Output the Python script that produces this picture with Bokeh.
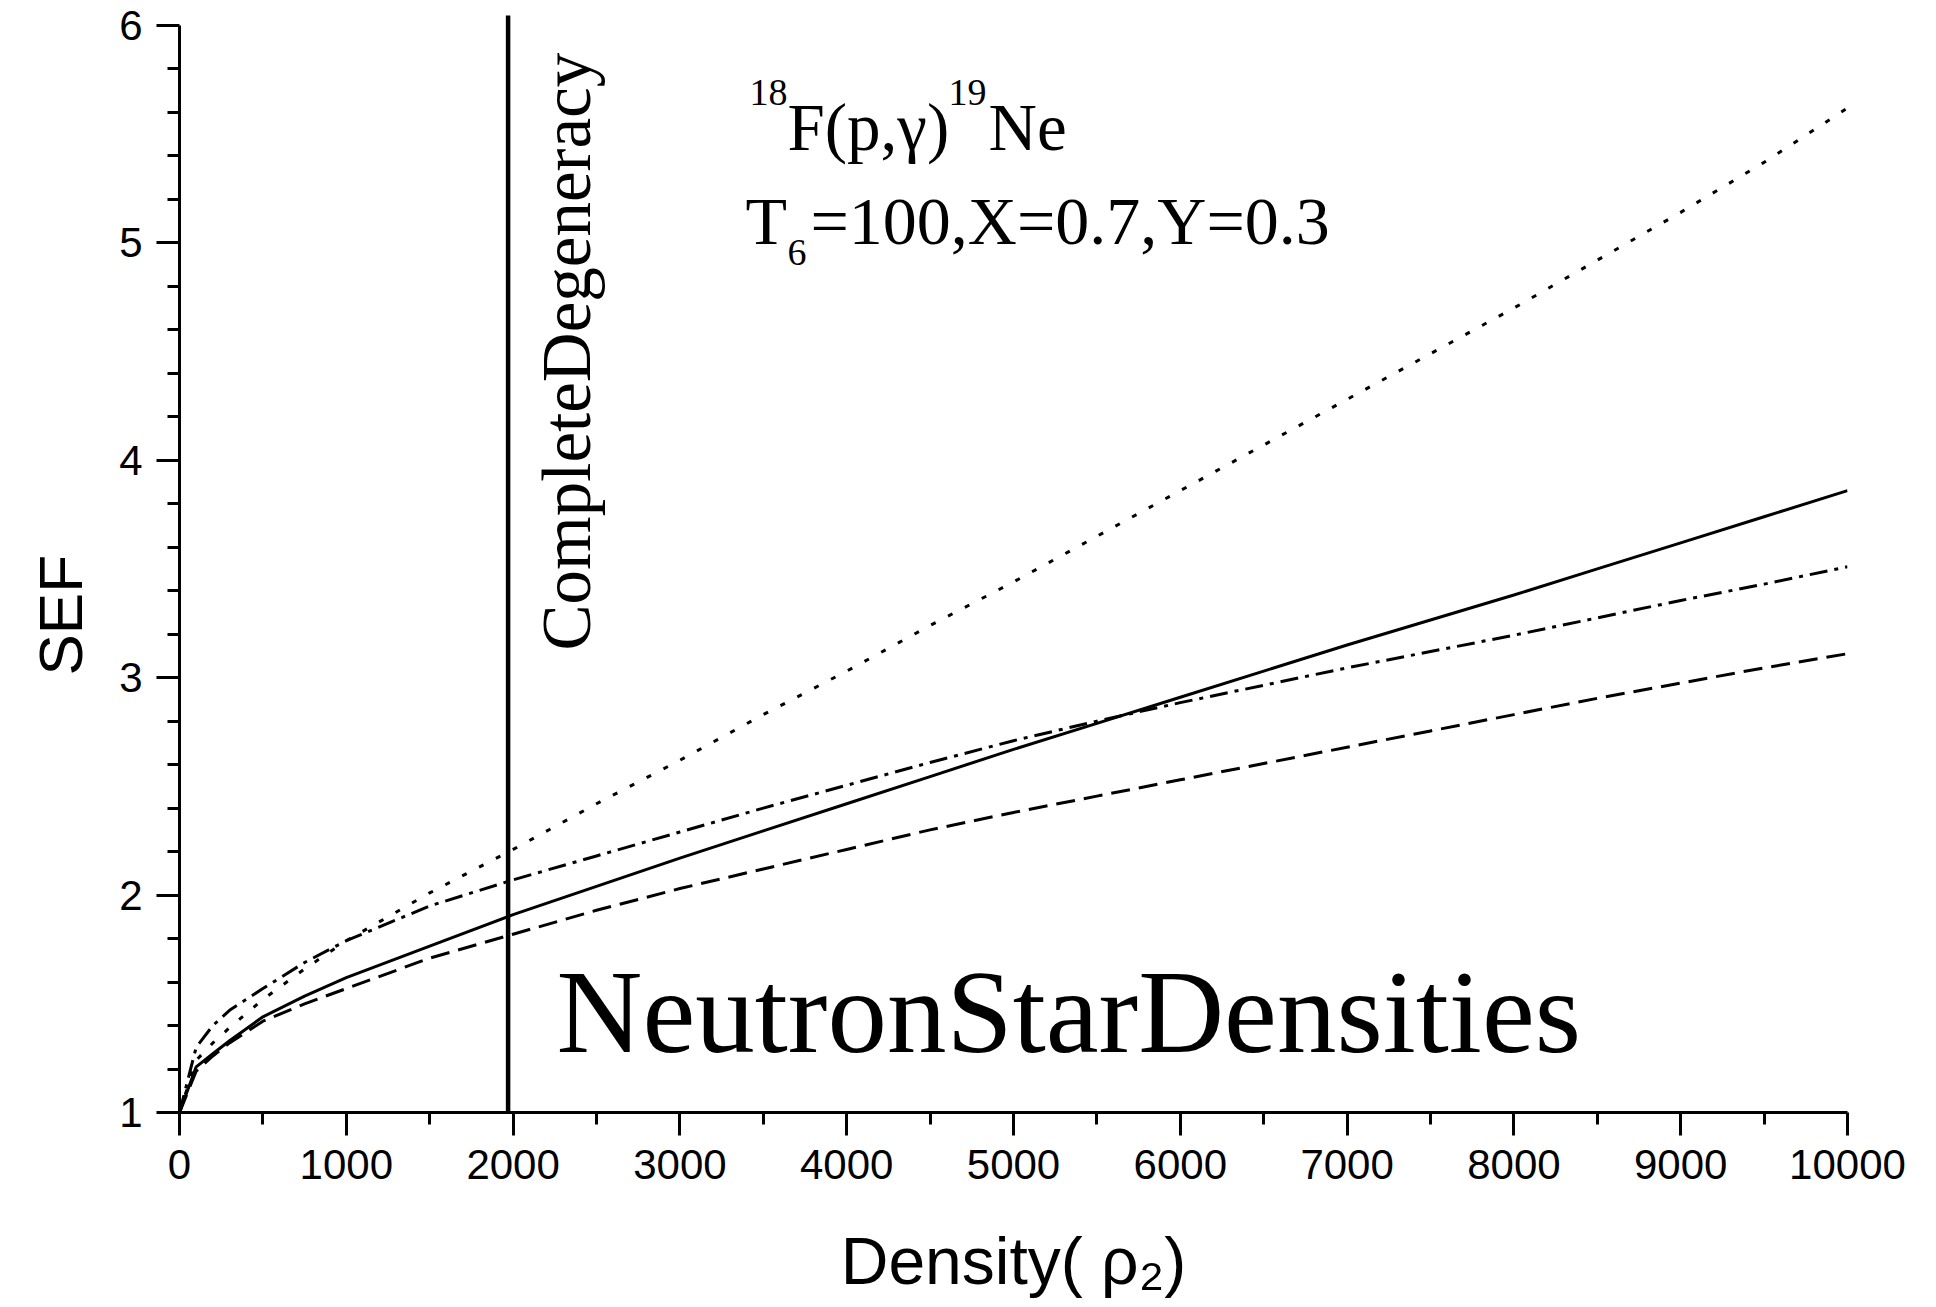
import math
from bokeh.plotting import figure
from bokeh.models import Label, Range1d, FixedTicker, Title
from bokeh.embed import file_html
from bokeh.resources import INLINE

# ---- data ----
density = [0, 100, 200, 300, 500, 750, 1000, 1500, 2000, 2500, 3000, 3500, 4000,
           4500, 5000, 5500, 6000, 6500, 7000, 7500, 8000, 8500, 9000, 9500, 10000]
sef_solid = [1.00, 1.21, 1.27, 1.33, 1.44, 1.535, 1.62, 1.765, 1.91, 2.04, 2.17, 2.295, 2.42,
             2.545, 2.67, 2.79, 2.91, 3.03, 3.15, 3.265, 3.38, 3.50, 3.62, 3.74, 3.86]
sef_dashed = [1.00, 1.19, 1.26, 1.32, 1.42, 1.50, 1.57, 1.71, 1.82, 1.93, 2.03, 2.12, 2.21,
              2.30, 2.38, 2.455, 2.53, 2.605, 2.68, 2.755, 2.83, 2.905, 2.975, 3.045, 3.11]
sef_dotted = [1.00, 1.24, 1.32, 1.39, 1.52, 1.66, 1.79, 2.01, 2.21, 2.42, 2.62, 2.83, 3.03,
              3.24, 3.44, 3.65, 3.86, 4.07, 4.28, 4.49, 4.70, 4.92, 5.14, 5.37, 5.62]
sef_dashdot = [1.00, 1.30, 1.40, 1.47, 1.57, 1.69, 1.79, 1.95, 2.07, 2.18, 2.29, 2.40, 2.505,
               2.61, 2.71, 2.80, 2.885, 2.965, 3.045, 3.12, 3.195, 3.275, 3.355, 3.43, 3.51]
degeneracy_density = 1970
x_ticks = [0, 1000, 2000, 3000, 4000, 5000, 6000, 7000, 8000, 9000, 10000]
x_minor = [500, 1500, 2500, 3500, 4500, 5500, 6500, 7500, 8500, 9500]
y_ticks = [1, 2, 3, 4, 5, 6]
y_minor = [round(1 + 0.2 * i, 2) for i in range(26) if i % 5 != 0]

# ---- layout (pixels) ----
W, H = 1936, 1307
L, R = 179, 1847          # x=0 and x=10000
TOP6, B = 25, 1112        # y=6 and y=1
Y_END = 6.05
ppu = (B - TOP6) / 5.0
frame_top = TOP6 - (Y_END - 6) * ppu

p = figure(width=W, height=H, output_backend="svg", toolbar_location=None,
           x_range=Range1d(0, 10000), y_range=Range1d(1, Y_END),
           min_border_left=L, min_border_right=W - R,
           min_border_top=int(round(frame_top)), min_border_bottom=H - B)
p.outline_line_color = None
p.xgrid.visible = False
p.ygrid.visible = False
p.background_fill_color = "white"
p.border_fill_color = "white"

def dx(px):
    return (px - L) / (R - L) * 10000.0

def dy(py):
    return 1 + (B - py) / ppu

for ax in (p.xaxis, p.yaxis):
    ax.axis_line_width = 3
    ax.major_tick_line_width = 3
    ax.minor_tick_line_width = 3
    ax.major_tick_in = 0
    ax.major_tick_out = 23
    ax.minor_tick_in = 0
    ax.minor_tick_out = 12
    ax.major_label_text_font = "Liberation Sans"
    ax.major_label_text_font_size = "42px"
    ax.major_label_text_color = "black"
    ax.axis_line_color = "black"
    ax.major_tick_line_color = "black"
    ax.minor_tick_line_color = "black"

p.xaxis.ticker = FixedTicker(ticks=x_ticks, minor_ticks=x_minor)
p.yaxis.ticker = FixedTicker(ticks=y_ticks, minor_ticks=y_minor)
p.xaxis.bounds = (0, 10000)
p.yaxis.bounds = (1, 6)
p.xaxis.major_label_standoff = 14
p.yaxis.major_label_standoff = 14

# x axis title
p.xaxis.axis_label = "Density( \u03c1\u2082)"
p.xaxis.axis_label_text_font = "Liberation Sans"
p.xaxis.axis_label_text_font_size = "66px"
p.xaxis.axis_label_text_font_style = "normal"
p.xaxis.axis_label_text_color = "black"
p.xaxis.axis_label_standoff = 42

# y axis title as a side Title so it can be shifted along the axis
p.add_layout(Title(text="SEF", align="left", offset=1112 - 675, standoff=44,
                   text_font="Liberation Sans", text_font_size="62px",
                   text_font_style="normal", text_color="black"), "left")

lw = 3
p.line(density, sef_solid, line_color="black", line_width=lw)
p.line(density, sef_dashed, line_color="black", line_width=lw, line_dash="19 9")
p.line(density, sef_dotted, line_color="black", line_width=lw, line_dash="5 14")
p.line(density, sef_dashdot, line_color="black", line_width=lw, line_dash="18 7 4 7")
p.segment(x0=[degeneracy_density], y0=[1], x1=[degeneracy_density], y1=[6.045],
          line_color="black", line_width=4.5)

K = 0.31  # empirical baseline correction

def lab(px, py, text, font, size, rotated=False):
    if rotated:
        x, y, ang = dx(px - K * size), dy(py), math.pi / 2
    else:
        x, y, ang = dx(px), dy(py - K * size), 0.0
    p.add_layout(Label(x=x, y=y, text=text, text_font=font,
                       text_font_size=f"{size}px", text_color="black",
                       text_baseline="alphabetic", text_align="left", angle=ang))

SERIF = "Liberation Serif"

# reaction label
lab(749, 104, "18", SERIF, 38)
lab(787, 147, "F(p,\u03b3)", SERIF, 67)
lab(948, 104, "19", SERIF, 38)
lab(988, 147, "Ne", SERIF, 67)
# conditions
lab(745, 242, "T", SERIF, 68)
lab(787, 264, "6", SERIF, 38)
lab(810, 242, "=100,X=0.7,Y=0.3", SERIF, 68)
# big label
lab(556, 1048, "NeutronStarDensities", SERIF, 119)
# vertical label
lab(588, 650, "CompleteDegeneracy", SERIF, 69, rotated=True)

open("out.html", "w").write(file_html(p, INLINE))
